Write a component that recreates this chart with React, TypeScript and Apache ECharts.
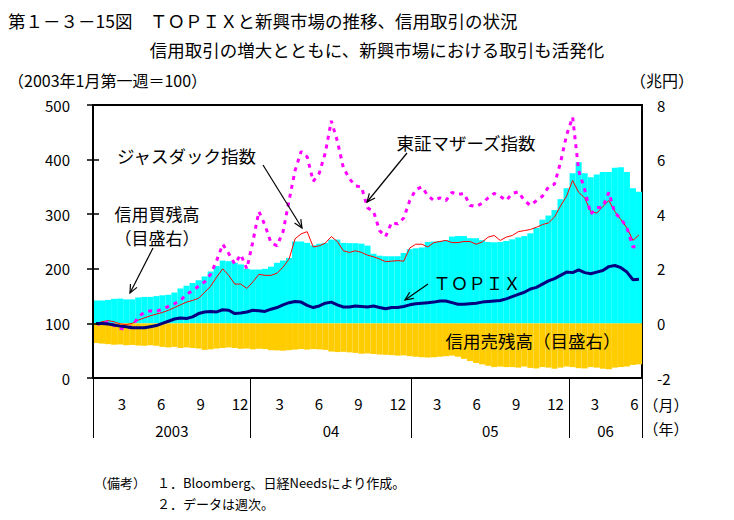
import React, { useEffect, useRef } from "react";
import * as echarts from "echarts";

// ---- data (bi-weekly samples, Jan 2003 – Jun 2006) ----
const START_YEAR = 2003;
const categories: string[] = Array.from({ length: 91 }, (_, k) => {
  const d = new Date(Date.UTC(START_YEAR, 0, 3 + 14 * k));
  return `${d.getUTCFullYear()}/${d.getUTCMonth() + 1}/${d.getUTCDate()}`;
});

// TOPIX (2003 1st week = 100)
const topix = [
  100, 100, 99, 97, 95, 94, 92, 92, 92, 94, 96, 100, 104, 108, 110, 109, 112, 118, 121, 122,
  121, 125, 124, 118, 119, 121, 124, 123, 122, 126, 129, 134, 138, 140, 139, 133, 129, 132, 137, 139,
  134, 130, 130, 132, 131, 130, 132, 129, 127, 129, 129, 131, 134, 136, 137, 138, 139, 141, 141, 138,
  135, 135, 136, 137, 139, 140, 141, 142, 145, 149, 153, 157, 163, 166, 172, 178, 182, 188, 194, 193,
  198, 193, 191, 194, 197, 204, 206, 202, 194, 180, 181,
];
// JASDAQ index
const jasdaq = [
  100, 103, 105, 103, 99, 98, 100, 106, 110, 114, 117, 120, 124, 129, 134, 139, 142, 146, 157, 168,
  185, 200, 188, 172, 172, 164, 176, 190, 188, 188, 192, 203, 218, 255, 264, 268, 240, 242, 247, 259,
  250, 233, 230, 233, 230, 225, 222, 218, 213, 214, 215, 214, 238, 245, 245, 240, 248, 250, 252, 248,
  248, 250, 250, 245, 249, 258, 261, 252, 258, 261, 268, 270, 272, 276, 281, 284, 295, 315, 333, 362,
  340, 330, 305, 302, 314, 325, 305, 290, 275, 252, 262,
];
// TSE Mothers index
const mothers = [
  100, 97, 104, 96, 91, 89, 95, 112, 120, 123, 122, 126, 131, 136, 142, 153, 160, 168, 176, 190,
  215, 245, 228, 209, 226, 200, 250, 305, 280, 248, 242, 268, 325, 380, 415, 405, 360, 375, 412, 471,
  434, 385, 365, 352, 350, 312, 305, 270, 259, 285, 282, 293, 325, 345, 350, 334, 325, 330, 325, 340,
  336, 338, 316, 314, 320, 330, 338, 333, 325, 338, 341, 325, 316, 325, 333, 350, 355, 395, 445, 478,
  380, 345, 300, 312, 313, 340, 302, 292, 275, 240, 242,
];
// Margin buying balance (trillion yen, right axis)
const buyBalance = [
  0.84, 0.84, 0.86, 0.9, 0.91, 0.88, 0.88, 0.95, 0.97, 0.97, 1.0, 1.03, 1.05, 1.13, 1.28, 1.38, 1.48, 1.58, 1.72, 1.9,
  2.1, 2.3, 2.28, 2.22, 2.16, 2.0, 1.97, 1.97, 2.0, 2.08, 2.22, 2.3, 2.4, 3.0, 3.0, 2.95, 2.86, 2.92, 2.95, 3.07,
  3.07, 2.95, 2.94, 2.94, 2.92, 2.85, 2.55, 2.48, 2.46, 2.46, 2.46, 2.58, 2.72, 2.75, 2.78, 2.98, 3.0, 3.02, 3.05, 3.18,
  3.2, 3.2, 3.12, 3.12, 3.05, 2.98, 2.97, 2.98, 3.02, 3.08, 3.15, 3.2, 3.3, 3.5, 3.8, 3.95, 4.15, 4.55, 4.95, 5.5,
  5.9, 5.5, 5.35, 5.45, 5.55, 5.55, 5.7, 5.72, 5.55, 4.95, 4.82,
];
// Margin selling balance (trillion yen, right axis, drawn below zero)
const sellBalance = [
  -0.72, -0.74, -0.76, -0.78, -0.77, -0.8, -0.79, -0.81, -0.82, -0.8, -0.82, -0.86, -0.88, -0.86, -0.9, -0.88, -0.9, -0.92, -0.97, -0.95,
  -0.92, -0.9, -0.88, -0.9, -0.93, -0.92, -0.95, -0.93, -0.94, -0.98, -0.99, -1.0, -0.98, -0.96, -0.94, -0.96, -0.94, -0.95, -0.97, -1.03,
  -1.05, -1.04, -1.06, -1.08, -1.11, -1.1, -1.12, -1.14, -1.15, -1.16, -1.18, -1.17, -1.2, -1.22, -1.24, -1.25, -1.24, -1.22, -1.2, -1.18,
  -1.22, -1.3, -1.38, -1.45, -1.5, -1.55, -1.6, -1.58, -1.6, -1.6, -1.62, -1.58, -1.63, -1.65, -1.6, -1.62, -1.66, -1.62, -1.58, -1.6,
  -1.64, -1.65, -1.6, -1.62, -1.66, -1.68, -1.62, -1.6, -1.58, -1.52, -1.5,
];

// Bottom axis (in weeks from first week of 2003)
const TOTAL_WEEKS = 181;
const monthLabelWeeks = [9, 22, 35, 48, 61, 74, 87, 100, 113, 126, 139, 152, 165, 178];
const monthLabels = ["3", "6", "9", "12", "3", "6", "9", "12", "3", "6", "9", "12", "3", "6"];
const yearBoundaryWeeks = [0, 52, 105, 157, 181];
const yearLabelWeeks = [26, 78.5, 131, 169];
const yearLabels = ["2003", "04", "05", "06"];

const leftTicks = { min: 0, max: 500, interval: 100 };
const rightTicks = { min: -2, max: 8, interval: 2 };

const FONT = '"Noto Sans CJK JP", "Noto Sans", sans-serif';

function txt(text: string, x: number, y: number, size: number, align = "left") {
  return {
    type: "text",
    x,
    y,
    z: 100,
    style: { text, fill: "#000", font: `${size}px ${FONT}`, align, verticalAlign: "middle" },
  };
}

function arrow(x1: number, y1: number, x2: number, y2: number) {
  const ang = Math.atan2(y2 - y1, x2 - x1);
  const L = 9;
  const t = 0.42;
  const a1 = [x2 - L * Math.cos(ang - t), y2 - L * Math.sin(ang - t)];
  const a2 = [x2 - L * Math.cos(ang + t), y2 - L * Math.sin(ang + t)];
  return [
    { type: "line", z: 100, shape: { x1, y1, x2, y2 }, style: { stroke: "#000", lineWidth: 1.2 } },
    { type: "polyline", z: 100, shape: { points: [a1, [x2, y2], a2] }, style: { stroke: "#000", lineWidth: 1.2, fill: null } },
  ];
}

export default function App() {
  const ref = useRef<HTMLDivElement>(null);
  useEffect(() => {
    if (!ref.current) return;
    const chart = echarts.init(ref.current, null, { renderer: "svg" });
    const labelStyle = { color: "#000", fontSize: 15, fontFamily: FONT };
    const option: any = {
      animation: false,
      backgroundColor: "#fff",
      grid: [
        {
          left: 93,
          right: 92,
          top: 105,
          bottom: 142,
          show: true,
          borderColor: "#000",
          borderWidth: 2,
          backgroundColor: "transparent",
        },
        { left: 93, right: 92, top: 378, height: 60, show: false },
      ],
      xAxis: [
        {
          type: "category",
          gridIndex: 0,
          data: categories,
          position: "bottom",
          axisLine: { show: false },
          axisTick: { show: false },
          axisLabel: { show: false },
          splitLine: { show: false },
        },
        {
          type: "value",
          gridIndex: 0,
          min: 0,
          max: TOTAL_WEEKS,
          position: "bottom",
          axisLine: { show: false },
          splitLine: { show: false },
          axisTick: { show: false },
          axisLabel: {
            ...labelStyle,
            customValues: monthLabelWeeks.map((w) => w + 0.5),
            margin: 18,
            formatter: (v: number) => {
              const i = monthLabelWeeks.findIndex((w) => Math.abs(w + 0.5 - v) < 0.01);
              return i >= 0 ? monthLabels[i] : "";
            },
          },
        },
        {
          type: "value",
          gridIndex: 0,
          min: 0,
          max: TOTAL_WEEKS,
          position: "bottom",
          axisLine: { show: false },
          splitLine: { show: false },
          axisTick: { show: false },
          axisLabel: {
            ...labelStyle,
            customValues: yearLabelWeeks,
            margin: 45,
            formatter: (v: number) => {
              const i = yearLabelWeeks.findIndex((w) => Math.abs(w - v) < 0.01);
              return i >= 0 ? yearLabels[i] : "";
            },
          },
        },
        {
          type: "value",
          gridIndex: 1,
          min: 0,
          max: TOTAL_WEEKS,
          show: false,
        },
      ],
      yAxis: [
        {
          type: "value",
          gridIndex: 0,
          position: "left",
          ...leftTicks,
          z: 10,
          axisLine: { show: true, lineStyle: { color: "#000", width: 2 } },
          axisTick: { show: true, inside: true, length: 6, lineStyle: { color: "#000", width: 1.5 } },
          axisLabel: { ...labelStyle, margin: 23 },
          splitLine: { show: false },
        },
        {
          type: "value",
          gridIndex: 0,
          position: "right",
          ...rightTicks,
          z: 10,
          axisLine: { show: true, lineStyle: { color: "#000", width: 2 } },
          axisTick: { show: true, inside: true, length: 6, lineStyle: { color: "#000", width: 1.5 } },
          axisLabel: { ...labelStyle, margin: 15 },
          splitLine: { show: false },
        },
        { type: "value", gridIndex: 1, min: 0, max: 1, show: false },
      ],
      series: [
        {
          name: "信用買残高",
          type: "bar",
          xAxisIndex: 0,
          yAxisIndex: 1,
          data: buyBalance,
          barWidth: "100%",
          barGap: "-100%",
          itemStyle: { color: "#00FFFF" },
          z: 1,
        },
        {
          name: "信用売残高",
          type: "bar",
          xAxisIndex: 0,
          yAxisIndex: 1,
          data: sellBalance,
          barWidth: "100%",
          barGap: "-100%",
          itemStyle: { color: "#FFCC00" },
          z: 1,
        },
        {
          name: "ジャスダック指数",
          type: "line",
          xAxisIndex: 0,
          yAxisIndex: 0,
          data: jasdaq,
          symbol: "none",
          lineStyle: { color: "#FF0000", width: 1 },
          z: 3,
        },
        {
          name: "東証マザーズ指数",
          type: "line",
          xAxisIndex: 0,
          yAxisIndex: 0,
          data: mothers,
          symbol: "none",
          lineStyle: { color: "#FF00FF", width: 3, type: [4, 5] },
          z: 4,
        },
        {
          name: "TOPIX",
          type: "line",
          xAxisIndex: 0,
          yAxisIndex: 0,
          data: topix,
          symbol: "none",
          lineStyle: { color: "#000080", width: 3 },
          z: 5,
        },
        {
          name: "年区切り",
          type: "line",
          xAxisIndex: 3,
          yAxisIndex: 2,
          data: [[0, 0]],
          symbol: "none",
          lineStyle: { opacity: 0 },
          silent: true,
          markLine: {
            silent: true,
            symbol: ["none", "none"],
            label: { show: false },
            lineStyle: { color: "#000", width: 1, type: "solid" },
            data: yearBoundaryWeeks.map((w) => ({ xAxis: w })),
          },
        },
      ],
      graphic: [
        txt("第１－３－15図　ＴＯＰＩＸと新興市場の推移、信用取引の状況", 8, 20, 17.5),
        txt("信用取引の増大とともに、新興市場における取引も活発化", 377, 49, 17.5, "center"),
        txt("（2003年1月第一週＝100）", 8, 80, 16),
        txt("（兆円）", 662, 80, 16, "center"),
        txt("ジャスダック指数", 117, 155, 17.5),
        txt("信用買残高", 157, 213, 17),
        txt("（目盛右）", 157, 237, 17),
        txt("東証マザーズ指数", 466, 142, 17.5, "center"),
        txt("ＴＯＰＩＸ", 477, 282, 17.5, "center"),
        txt("信用売残高（目盛右）", 533, 340, 17.5, "center"),
        txt("（月）", 666, 404, 15, "center"),
        txt("（年）", 666, 428, 15, "center"),
        txt("（備考）", 94, 482, 13),
        txt("１．Bloomberg、日経Needsにより作成。", 157, 482, 13),
        txt("２．データは週次。", 157, 503, 13),
        ...arrow(263, 165, 302, 228),
        ...arrow(153, 248, 130, 293),
        ...arrow(407, 153, 367, 202),
        ...arrow(428, 284, 405, 300),
      ].map((el: any) => {
        // center-align the two-line label pair
        if (el.type === "text" && (el.style.text === "信用買残高" || el.style.text === "（目盛右）")) {
          el.style.align = "center";
        }
        return el;
      }),
    };
    chart.setOption(option);
    return () => chart.dispose();
  }, []);
  return (
    <div
      ref={ref}
      style={{ position: "fixed", left: 0, top: 0, width: 734, height: 520, background: "#fff" }}
    />
  );
}
